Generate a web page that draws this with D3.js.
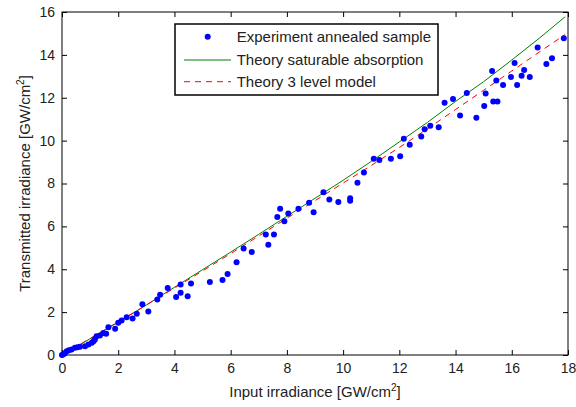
<!DOCTYPE html>
<html>
<head>
<script src="https://cdn.jsdelivr.net/npm/d3@7"></script>
<style>
    body { margin: 0; background: #fff; }
    text { font-family: "Liberation Sans", Arial, sans-serif; fill: #222; }
</style>
</head>
<body>
<svg id="chart" width="576" height="407"></svg>
<script>
// measured points (input, transmitted) in GW/cm2
let expX = [0, 0.05, 0.1, 0.17, 0.25, 0.34, 0.46, 0.55, 0.64, 0.82, 0.94, 1.06, 1.12, 1.17, 1.23, 1.35, 1.47, 1.57, 1.65, 1.89, 2.0, 2.12, 2.3, 2.51, 2.66, 2.86, 3.07, 3.39, 3.49, 3.76, 4.06, 4.22, 4.22, 4.47, 4.59, 5.26, 5.71, 5.89, 6.21, 6.46, 6.75, 7.25, 7.34, 7.54, 7.66, 7.76, 7.91, 8.05, 8.41, 8.79, 8.95, 9.3, 9.51, 9.83, 10.25, 10.25, 10.51, 10.74, 11.09, 11.29, 11.7, 12.03, 12.16, 12.37, 12.78, 12.9, 13.1, 13.4, 13.61, 13.91, 14.16, 14.4, 14.74, 15.02, 15.07, 15.3, 15.34, 15.45, 15.49, 15.69, 15.97, 16.1, 16.19, 16.35, 16.44, 16.64, 16.92, 17.23, 17.43, 17.85];
let expY = [0, 0.04, 0.08, 0.18, 0.22, 0.26, 0.34, 0.36, 0.38, 0.41, 0.49, 0.57, 0.64, 0.72, 0.88, 0.91, 1.03, 0.99, 1.3, 1.22, 1.5, 1.61, 1.76, 1.7, 1.92, 2.37, 2.03, 2.59, 2.81, 3.13, 2.7, 3.29, 2.9, 2.74, 3.33, 3.4, 3.5, 3.78, 4.33, 4.97, 4.81, 5.62, 5.14, 5.62, 6.44, 6.82, 6.24, 6.6, 6.82, 7.1, 6.66, 7.59, 7.25, 7.14, 7.31, 7.2, 8.03, 8.51, 9.16, 9.1, 9.16, 9.27, 10.09, 9.81, 10.19, 10.53, 10.69, 10.62, 11.77, 11.94, 11.17, 12.22, 11.07, 11.62, 12.2, 13.25, 11.83, 12.81, 11.83, 12.6, 12.97, 13.62, 12.6, 13.03, 13.3, 12.97, 14.34, 13.58, 13.84, 14.77];

// theory curves
let theoryX = [0, 1, 2, 3, 4, 5, 6, 7, 8, 9, 10, 11, 12, 13, 14, 15, 16, 17, 17.9];
let saturableY = [0, 0.76, 1.53, 2.33, 3.16, 3.98, 4.8, 5.63, 6.47, 7.31, 8.15, 9.03, 9.94, 10.85, 11.83, 12.75, 13.76, 14.8, 15.78];
let threeLevelY = [0, 0.77, 1.55, 2.33, 3.12, 3.92, 4.73, 5.55, 6.38, 7.2, 8.02, 8.84, 9.68, 10.55, 11.45, 12.35, 13.25, 14.15, 14.95];

let xTicks = d3.range(0, 19, 2);
let yTicks = d3.range(0, 17, 2);
let legendLabels = ["Experiment annealed sample", "Theory saturable absorption", "Theory 3 level model"];

let svg = d3.select("#chart");
let margin = {left: 62, top: 12, right: 8, bottom: 52};
let w = 576 - margin.left - margin.right;
let h = 407 - margin.top - margin.bottom;

let x = d3.scaleLinear().domain([0, 18]).range([0, w]);
let y = d3.scaleLinear().domain([0, 16]).range([h, 0]);

let g = svg.append("g").attr("transform", `translate(${margin.left},${margin.top})`);

// axes, ticks pointing inwards on all four sides
function styleAxis(sel) {
    sel.select(".domain").remove();
    sel.selectAll("line").attr("stroke", "#000");
    sel.selectAll("text").style("font-size", "14px").attr("fill", "#222");
}
g.append("g").attr("transform", `translate(0,${h})`)
    .call(d3.axisBottom(x).tickValues(xTicks).tickSizeInner(-5).tickSizeOuter(0).tickPadding(8))
    .call(styleAxis);
g.append("g")
    .call(d3.axisLeft(y).tickValues(yTicks).tickSizeInner(-5).tickSizeOuter(0).tickPadding(7))
    .call(styleAxis);
g.append("g")
    .call(d3.axisTop(x).tickValues(xTicks).tickSizeInner(-5).tickSizeOuter(0).tickFormat(""))
    .call(styleAxis);
g.append("g").attr("transform", `translate(${w},0)`)
    .call(d3.axisRight(y).tickValues(yTicks).tickSizeInner(-5).tickSizeOuter(0).tickFormat(""))
    .call(styleAxis);
g.append("rect").attr("width", w).attr("height", h)
    .attr("fill", "none").attr("stroke", "#000").attr("stroke-width", 1);

let line = d3.line().x(d => x(d[0])).y(d => y(d[1]));

g.append("path")
    .datum(theoryX.map((v, i) => [v, saturableY[i]]))
    .attr("d", line).attr("fill", "none")
    .attr("stroke", "#008000").attr("stroke-width", 1);

g.append("path")
    .datum(theoryX.map((v, i) => [v, threeLevelY[i]]))
    .attr("d", line).attr("fill", "none")
    .attr("stroke", "#ff0000").attr("stroke-width", 1)
    .attr("stroke-dasharray", "6,5");

g.selectAll("circle.exp")
    .data(expX.map((v, i) => [v, expY[i]]))
    .enter().append("circle")
    .attr("class", "exp")
    .attr("cx", d => x(d[0])).attr("cy", d => y(d[1]))
    .attr("r", 3).attr("fill", "#0000ff");

// axis labels
let xl = svg.append("text")
    .attr("x", margin.left + w / 2).attr("y", 397)
    .attr("text-anchor", "middle").style("font-size", "15px");
xl.append("tspan").text("Input irradiance [GW/cm");
xl.append("tspan").attr("dy", -6).style("font-size", "10px").text("2");
xl.append("tspan").attr("dy", 6).text("]");

let yl = svg.append("text")
    .attr("transform", `translate(30,${margin.top + h / 2}) rotate(-90)`)
    .attr("text-anchor", "middle").style("font-size", "15px");
yl.append("tspan").text("Transmitted irradiance [GW/cm");
yl.append("tspan").attr("dy", -6).style("font-size", "10px").text("2");
yl.append("tspan").attr("dy", 6).text("]");

// legend
let leg = svg.append("g").attr("transform", "translate(175,24)");
leg.append("rect").attr("width", 263).attr("height", 71)
    .attr("fill", "#fff").attr("stroke", "#000").attr("stroke-width", 1.5);
let rowY = [12.7, 36, 57.7];
leg.append("circle").attr("cx", 32.7).attr("cy", rowY[0]).attr("r", 3).attr("fill", "#0000ff");
leg.append("line").attr("x1", 9).attr("x2", 56).attr("y1", rowY[1]).attr("y2", rowY[1])
    .attr("stroke", "#008000").attr("stroke-width", 1);
leg.append("line").attr("x1", 9).attr("x2", 56).attr("y1", rowY[2]).attr("y2", rowY[2])
    .attr("stroke", "#ff0000").attr("stroke-width", 1).attr("stroke-dasharray", "6,5");
leg.selectAll("text.lab")
    .data(legendLabels)
    .enter().append("text")
    .attr("class", "lab")
    .attr("x", 61.7).attr("y", (d, i) => rowY[i] + 5)
    .style("font-size", "15px")
    .text(d => d);
</script>
</body>
</html>
